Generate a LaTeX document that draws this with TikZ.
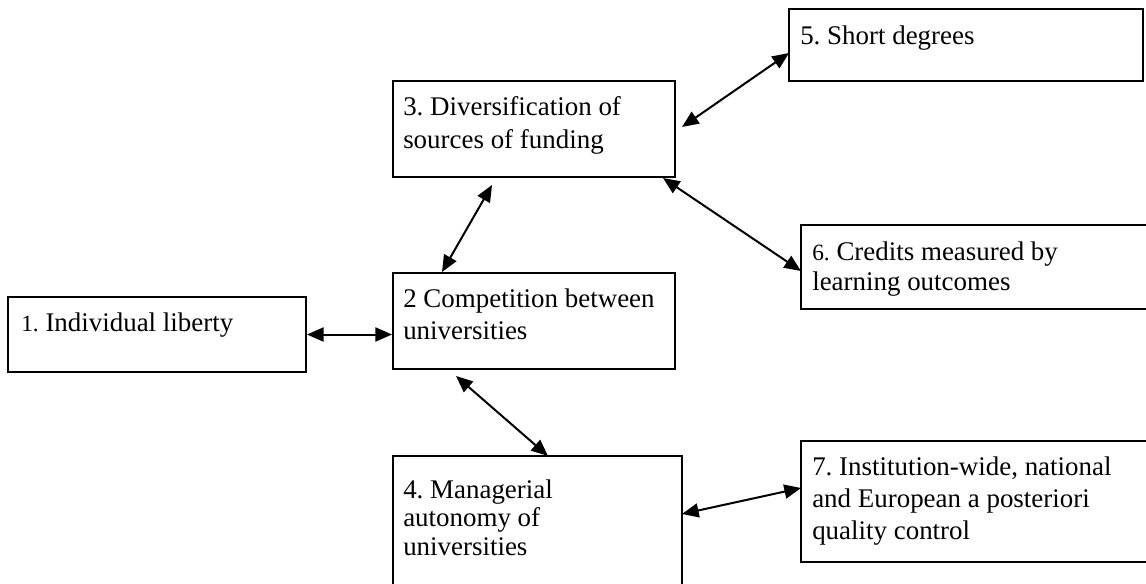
\documentclass[tikz,border=0pt]{standalone}
\usepackage{fontspec}
\setmainfont{Liberation Serif}
\usetikzlibrary{arrows.meta,fit}
\frenchspacing
\newcommand{\sm}[1]{{\fontsize{17.5pt}{20pt}\selectfont #1}}
\begin{document}
\begin{tikzpicture}[x=0.75pt,y=-0.75pt,
  box/.style={draw=black,line width=1.4pt,inner sep=0pt,fill=none},
  txt/.style={anchor=base west,inner sep=0pt,font=\frenchspacing\fontsize{20.2pt}{24.75pt}\selectfont},
  link/.style={line width=1.5pt,{Triangle[length=12.5pt,width=10.5pt]}-{Triangle[length=12.5pt,width=10.5pt]}}]
\clip (0,0) rectangle (1146,583);
\fill[white] (0,0) rectangle (1146,583);
% boxes
\node[box,fit={(8,297) (306,372)}] (b1) {};
\node[box,fit={(393,273) (675,369)}] (b2) {};
\node[box,fit={(393,81) (675,177)}] (b3) {};
\node[box,fit={(393,456) (682,600)}] (b4) {};
\node[box,fit={(789,9) (1143,81)}] (b5) {};
\node[box,fit={(801,225) (1160,309)}] (b6) {};
\node[box,fit={(801,441) (1160,562)}] (b7) {};
% texts
\node[txt] (t1) at (21,331) {\sm{1.} Individual liberty};
\node[txt] (t2) at (403,307) {\vtop{\baselineskip=24pt\hbox{2 Competition between}\hbox{universities}}};
\node[txt] (t3) at (403,115) {\vtop{\baselineskip=24.75pt\hbox{3. Diversification of}\hbox{sources of funding}}};
\node[txt] (t4) at (403,498) {\vtop{\baselineskip=21.6pt\hbox{4. Managerial}\hbox{autonomy of}\hbox{universities}}};
\node[txt] (t5) at (800,44) {5. Short degrees};
\node[txt] (t6) at (812,260) {\vtop{\baselineskip=22.5pt\hbox{\sm{6.} Credits measured by}\hbox{learning outcomes}}};
\node[txt] (t7) at (812,475) {\vtop{\baselineskip=24pt\hbox{7. Institution-wide, national}\hbox{and European a posteriori}\hbox{quality control}}};
% connector end points
\coordinate (c23a) at (442,272);
\coordinate (c23b) at (492,185);
\coordinate (c35a) at (682,127);
\coordinate (c35b) at (789,53);
\coordinate (c36a) at (663,178);
\coordinate (c36b) at (801,271);
\coordinate (c24a) at (456,376);
\coordinate (c24b) at (548,456);
\coordinate (c47a) at (682,514);
\coordinate (c47b) at (801,488);
% connectors
\draw[link] (b1.east) -- (b1.east -| b2.west);
\draw[link] (c23a) -- (c23b);
\draw[link] (c35a) -- (c35b);
\draw[link] (c36a) -- (c36b);
\draw[link] (c24a) -- (c24b);
\draw[link] (c47a) -- (c47b);
\end{tikzpicture}
\end{document}
